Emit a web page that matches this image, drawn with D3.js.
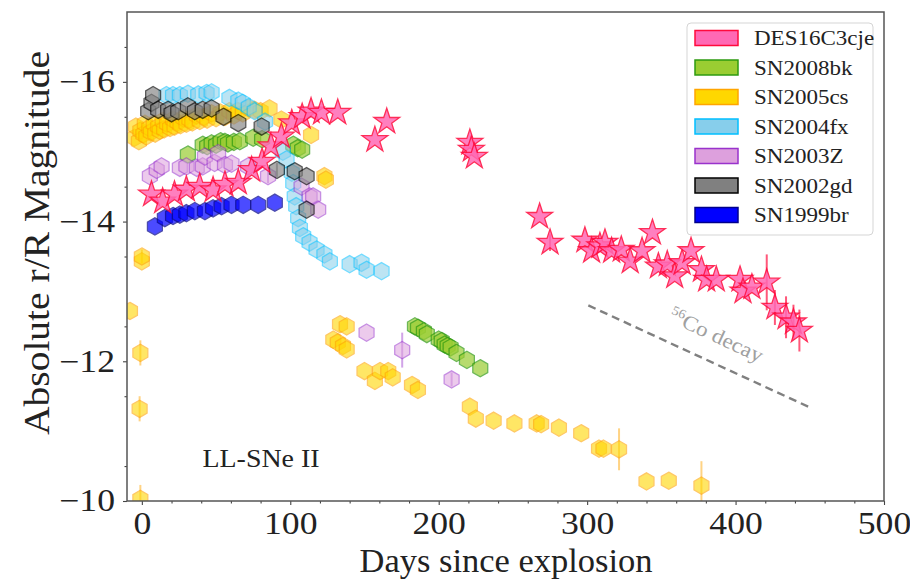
<!DOCTYPE html>
<html>
<head>
<meta charset="utf-8">
<script src="https://cdn.jsdelivr.net/npm/d3@7"></script>
<style>
  body { margin:0; background:#fff; }
  text { font-family:"Liberation Serif", "DejaVu Serif", serif; }
</style>
</head>
<body>
<svg id="chart" width="910" height="581"></svg>
<script>
// light curves of low-luminosity SNe II: [day, mag, err]

const DES16C3CJE = [
  [6.5,-14.39],[14,-14.29],[22,-14.39],[30,-14.46],[39,-14.50],[48,-14.45],[56,-14.53],
  [65,-14.56],[74,-14.74],[81,-14.86],[87,-15.08],[94,-15.22],[101,-15.41],[108,-15.50],
  [114,-15.58],[121,-15.56],[132,-15.56],[157,-15.17],[165,-15.43],[221,-15.13],[222,-15.03],
  [224,-14.93],[268,-14.07],[275,-13.70,0.12],[298.5,-13.73],[303,-13.58],[308.6,-13.65],
  [312,-13.70],[316.5,-13.58],[323,-13.60],[329,-13.43],[337,-13.58],[344,-13.84],[348,-13.36],
  [354,-13.39],[359,-13.22],[364,-13.41],[370,-13.58],[377,-13.31],[380.5,-13.17],[387,-13.17],
  [403,-13.17],[405,-13.00],[411,-13.06],[421,-13.13,0.4],[426.5,-12.77,0.25],[434,-12.63,0.3],
  [439,-12.56,0.25],[443,-12.44,0.3]
];

const SN2008BK = [
  [31,-14.96],[41,-15.10],[44,-15.08],[47,-15.12],[50,-15.10],[53,-15.15],[56,-15.14],
  [58,-15.12],[62,-15.14],[66,-15.15],[75,-15.20],[81,-15.18],[102,-15.10],[105,-15.05],
  [108,-15.03],[184,-12.50],[186,-12.48],[190,-12.43],[192,-12.39],[200,-12.31],[202,-12.29],
  [204,-12.24],[206,-12.22],[208,-12.20],[212,-12.12],[219,-12.02],[228,-11.90]
];

const SN2005CS = [
  [-8,-12.72],[-1,-12.12,0.18],[-1.5,-11.32,0.18],[-1,-10.03,0.2],[0,-13.43],[0,-13.50,0.1],
  [-5,-15.20],[-4,-15.36],[-2,-15.15],[-1,-15.30],[1,-15.25],[2,-15.40],[3,-15.22],[5,-15.34],
  [6,-15.28],[8,-15.40],[9,-15.26],[11,-15.36],[12,-15.30],[14,-15.44],[15,-15.32],[17,-15.40],
  [19,-15.34],[21,-15.46],[22,-15.36],[24,-15.42],[26,-15.38],[28,-15.48],[30,-15.40],
  [32,-15.46],[34,-15.42],[37,-15.52],[39,-15.44],[42,-15.50],[44,-15.46],[47,-15.55],
  [50,-15.48],[53,-15.56],[56,-15.50],[59,-15.58],[62,-15.52],[65,-15.58],[68,-15.55],
  [72,-15.62],[76,-15.60],[80,-15.58],[86,-15.62],[94,-15.46],[114,-15.24],[123,-14.65],
  [124,-14.60],[129,-12.31],[132,-12.27],[133.5,-12.53],[135.5,-12.22],[138,-12.17],
  [138,-12.50],[150,-11.86],[157,-11.72],[160.5,-11.86],[166,-11.86],[169,-11.77],[182,-11.66],
  [186,-11.59],[221,-11.35],[225,-11.18],[237,-11.15],[251,-11.11],[266,-11.11],[269,-11.10],
  [281,-11.05],[296,-10.97],[308,-10.75],[311,-10.75],[321.5,-10.74,0.3],[340,-10.28],
  [355,-10.29],[377,-10.22,0.35]
];

const SN2004FX = [
  [16.6,-15.81],[21,-15.81],[25.6,-15.81],[31,-15.83],[38,-15.82],[43.6,-15.84],[47,-15.85],
  [59,-15.77],[65,-15.73],[68,-15.70],[72,-15.64],[76,-15.58],[83,-15.43],[95,-15.00],
  [97.5,-14.89],[101,-14.70],[102,-14.55],[103,-14.36],[104,-14.22],[105.3,-14.05],
  [106.5,-13.91],[108.7,-13.79],[113,-13.70],[117.7,-13.60],[123,-13.53],[126.7,-13.43],
  [140,-13.39],[148,-13.41],[151.4,-13.31],[161.5,-13.29]
];

const SN2003Z = [
  [5.4,-14.65],[10,-14.74],[13.3,-14.79],[25.6,-14.77],[30,-14.79],[37,-14.77],[41,-14.79],
  [42.5,-14.93],[49,-14.84],[51.4,-14.98],[56,-14.81],[60.4,-14.83],[71.6,-14.79],
  [85,-14.65,0.1],[107.6,-14.50],[113,-14.36],[115.4,-14.36],[118.8,-14.17],
  [151.4,-12.41],[175.4,-12.16,0.25],[208.7,-11.74,0.1]
];

const SN2002GD = [
  [4.3,-15.58],[6.5,-15.70],[7.6,-15.81],[11,-15.60],[17.7,-15.60],[20,-15.55],[24.5,-15.58],
  [31,-15.65],[35.7,-15.58],[41,-15.60],[47,-15.62],[55,-15.50],[65,-15.41],[80.7,-15.36],
  [91,-14.74,0.1],[103,-14.72],[111,-14.65],[111,-14.17]
];

const SN1999BR = [
  [8.8,-13.93],[15.5,-14.05],[21,-14.08],[25.6,-14.10],[30,-14.12],[35.7,-14.15],[42.5,-14.15],
  [48,-14.19],[53.7,-14.22],[60.4,-14.24],[68.3,-14.24],[78.4,-14.24],[89.6,-14.27]
];

const SERIES_NAMES  = ["DES16C3cje","SN2008bk","SN2005cs","SN2004fx","SN2003Z","SN2002gd","SN1999br"];
const SERIES_FILL   = ["#ff69b4","#9acd32","#ffd700","#87ceeb","#dda0dd","#808080","#0000ff"];
const SERIES_EDGE   = ["#ff0a3c","#2e9a10","#ffa500","#00bfff","#9932cc","#000000","#00008b"];

const X_TICKS = [0,100,200,300,400,500];
const Y_TICKS = [-16,-14,-12,-10];
const CO_DECAY = [[300.8,-12.80],[450,-11.34]];

const svg = d3.select("#chart");
const W = 910, H = 581;
const margin = { top:12, right:26, bottom:80, left:127 };

const x = d3.scaleLinear().domain([-10, 500]).range([margin.left, W - margin.right]);
const y = d3.scaleLinear().domain([-17, -10]).range([margin.top, H - margin.bottom]);

// widen Liberation glyphs a bit so they take the room of the LaTeX font
function stretch(sel, f) {
  sel.each(function() {
    const L = this.getComputedTextLength();
    d3.select(this).attr("textLength", L * f).attr("lengthAdjust", "spacingAndGlyphs");
  });
}

// custom marker shapes (size = radius)
const hexagon = {
  draw(ctx, r) {
    for (let k = 0; k < 6; k++) {
      const a = -Math.PI / 2 + k * Math.PI / 3;
      k === 0 ? ctx.moveTo(r * Math.cos(a), r * Math.sin(a)) : ctx.lineTo(r * Math.cos(a), r * Math.sin(a));
    }
    ctx.closePath();
  }
};
const star = {
  draw(ctx, r) {
    const ri = r * 0.382;
    for (let k = 0; k < 10; k++) {
      const a = -Math.PI / 2 + k * Math.PI / 5;
      const rr = k % 2 ? ri : r;
      k === 0 ? ctx.moveTo(rr * Math.cos(a), rr * Math.sin(a)) : ctx.lineTo(rr * Math.cos(a), rr * Math.sin(a));
    }
    ctx.closePath();
  }
};

svg.append("defs").append("clipPath").attr("id", "plotclip")
  .append("rect")
  .attr("x", margin.left).attr("y", margin.top)
  .attr("width", W - margin.left - margin.right)
  .attr("height", H - margin.top - margin.bottom);

const plot = svg.append("g").attr("clip-path", "url(#plotclip)");

// Co decay slope
plot.append("line")
  .attr("x1", x(CO_DECAY[0][0])).attr("y1", y(CO_DECAY[0][1]))
  .attr("x2", x(CO_DECAY[1][0])).attr("y2", y(CO_DECAY[1][1]))
  .attr("stroke", "#808080").attr("stroke-width", 2.4)
  .attr("stroke-dasharray", "8,5");

const ang = Math.atan2(y(CO_DECAY[1][1]) - y(CO_DECAY[0][1]), x(CO_DECAY[1][0]) - x(CO_DECAY[0][0])) * 180 / Math.PI;
const coTxt = svg.append("text")
  .attr("transform", `translate(${x(385)},${y(-12.28)}) rotate(${ang})`)
  .attr("text-anchor", "middle")
  .style("font-size", "21px")
  .style("fill", "#a0a0a0");
coTxt.append("tspan").text("56").style("font-size", "13px").attr("dy", -8);
coTxt.append("tspan").text("Co decay").attr("dy", 8);
stretch(coTxt, 1.1);

function drawSeries(data, i, shape, r, op) {
  const g = plot.append("g");
  g.selectAll("line.err")
    .data(data.filter(d => d[2]))
    .enter().append("line")
    .attr("x1", d => x(d[0])).attr("x2", d => x(d[0]))
    .attr("y1", d => y(d[1] - d[2])).attr("y2", d => y(d[1] + d[2]))
    .attr("stroke", SERIES_FILL[i] === "#808080" ? "#555" : SERIES_EDGE[i])
    .attr("stroke-width", 2)
    .attr("opacity", op * 0.8);
  g.selectAll("path.mk")
    .data(data)
    .enter().append("path")
    .attr("transform", d => `translate(${x(d[0])},${y(d[1])})`)
    .attr("d", d3.symbol().type(shape).size(r))
    .attr("fill", SERIES_FILL[i])
    .attr("stroke", SERIES_EDGE[i])
    .attr("stroke-width", 1.3)
    .attr("opacity", op);
}

drawSeries(SN2008BK, 1, hexagon, 8.6, 0.7);
drawSeries(SN2005CS, 2, hexagon, 8.6, 0.6);
drawSeries(SN2004FX, 3, hexagon, 8.6, 0.55);
drawSeries(SN2003Z,  4, hexagon, 8.6, 0.55);
drawSeries(SN2002GD, 5, hexagon, 8.6, 0.65);
drawSeries(SN1999BR, 6, hexagon, 8.6, 0.7);
drawSeries(DES16C3CJE, 0, star, 13.5, 0.85);

// axes
svg.append("g")
  .attr("transform", `translate(0,${H - margin.bottom})`)
  .call(d3.axisBottom(x).tickValues(X_TICKS).tickSize(4).tickPadding(7).tickFormat(d3.format("d")));
svg.append("g")
  .attr("transform", `translate(0,${H - margin.bottom})`)
  .call(d3.axisBottom(x).tickValues(d3.range(-0, 501, 20).filter(v => v % 100)).tickSize(2.5).tickFormat(""));

svg.append("g")
  .attr("transform", `translate(${margin.left},0)`)
  .call(d3.axisLeft(y).tickValues(Y_TICKS).tickSize(4).tickPadding(8)
    .tickFormat(d => "\u2212" + Math.abs(d)));
svg.append("g")
  .attr("transform", `translate(${margin.left},0)`)
  .call(d3.axisLeft(y).tickValues(d3.range(-16.5, -10, 1)).tickSize(2.5).tickFormat(""));

svg.selectAll(".tick line").attr("stroke", "#444").attr("stroke-width", 1.1);
svg.selectAll(".domain").remove();
svg.selectAll(".tick text")
  .style("font-family", "'Liberation Serif', serif")
  .style("font-size", "31px")
  .attr("fill", "#222")
  .call(stretch, 1.15);

svg.append("rect")
  .attr("x", margin.left).attr("y", margin.top)
  .attr("width", W - margin.left - margin.right)
  .attr("height", H - margin.top - margin.bottom)
  .attr("fill", "none").attr("stroke", "#555").attr("stroke-width", 1.5);

// labels
svg.append("text")
  .attr("x", 506).attr("y", 572)
  .attr("text-anchor", "middle")
  .style("font-size", "33px").style("fill", "#222")
  .attr("textLength", 293).attr("lengthAdjust", "spacingAndGlyphs")
  .text("Days since explosion");

svg.append("text")
  .attr("transform", `translate(49,243) rotate(-90)`)
  .attr("text-anchor", "middle")
  .style("font-size", "35px").style("fill", "#222")
  .attr("textLength", 384).attr("lengthAdjust", "spacingAndGlyphs")
  .text("Absolute r/R Magnitude");

svg.append("text")
  .attr("x", 261).attr("y", 467)
  .attr("text-anchor", "middle")
  .style("font-size", "26px").style("fill", "#222")
  .attr("textLength", 117).attr("lengthAdjust", "spacingAndGlyphs")
  .text("LL-SNe II");

// legend
const lg = svg.append("g").attr("transform", "translate(687,23)");
lg.append("rect")
  .attr("width", 186).attr("height", 212).attr("rx", 4)
  .attr("fill", "#fff").attr("fill-opacity", 0.8)
  .attr("stroke", "#d5d5d5").attr("stroke-width", 1);
const item = lg.selectAll("g.item")
  .data(SERIES_NAMES)
  .enter().append("g")
  .attr("transform", (d, i) => `translate(0,${15 + i * 29.5})`);
item.append("rect")
  .attr("x", 8).attr("y", -7.5).attr("width", 43).attr("height", 15)
  .attr("fill", (d, i) => SERIES_FILL[i])
  .attr("stroke", (d, i) => SERIES_EDGE[i])
  .attr("stroke-width", 1.5);
item.append("text")
  .attr("x", 67).attr("y", 7)
  .style("font-size", "20px").style("fill", "#222")
  .text(d => d)
  .call(stretch, 1.15);
</script>
</body>
</html>
